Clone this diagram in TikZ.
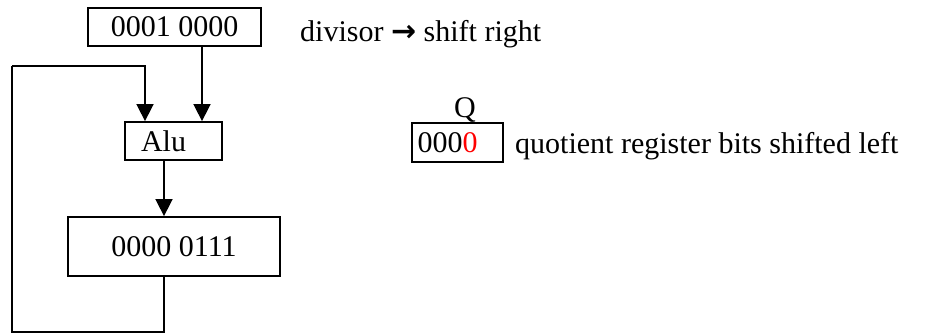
\documentclass[tikz,border=0pt]{standalone}
\usepackage{fontspec}
\setmainfont{Liberation Serif}
\newfontfamily\symfont{DejaVu Sans}
\usetikzlibrary{arrows.meta,calc}
\begin{document}
\begin{tikzpicture}[x=1pt,y=-1pt,
  every node/.style={font=\fontsize{30}{36}\selectfont, inner sep=0pt},
  regbox/.style={draw, line width=1.8pt, rectangle},
  wire/.style={line width=1.6pt},
  arr/.style={wire, -{Triangle[width=17pt,length=17pt]}}]
\useasboundingbox (0,0) rectangle (937,333);
% registers
\node[regbox, minimum width=173pt, minimum height=38pt] (div) at (174.5,27) {0001 0000};
\node[regbox, minimum width=97pt, minimum height=38pt] (alu) at (173.5,141) {Alu\hspace*{20pt}};
\node[regbox, minimum width=212pt, minimum height=59pt] (rem) at (174,246.5) {0000 0111};
\node[regbox, minimum width=91pt, minimum height=39pt] (qreg) at (457.5,142.5) {000\textcolor{red}{0}\hspace*{20pt}};
\node[anchor=south] (qlab) at (465,123) {Q};
% labels
\node[anchor=base west] (divtxt) at (300,41) {divisor {\symfont\bfseries →} shift right};
\node[anchor=base west] (qtxt) at (515,153) {quotient register bits shifted left};
% coordinates
\coordinate (dv) at (202,0);
\coordinate (fb) at (145,0);
\coordinate (mid) at (164,0);
\coordinate (lb) at (12,332);
\coordinate (lt) at (12,66);
% connectors
\draw[arr] (div.south -| dv) -- (alu.north -| dv);
\draw[arr] (alu.south -| mid) -- (rem.north -| mid);
\draw[wire] (rem.south -| mid) |- (lb) -- (lt);
\draw[arr] (lt) -| (alu.north -| fb);
\end{tikzpicture}
\end{document}
